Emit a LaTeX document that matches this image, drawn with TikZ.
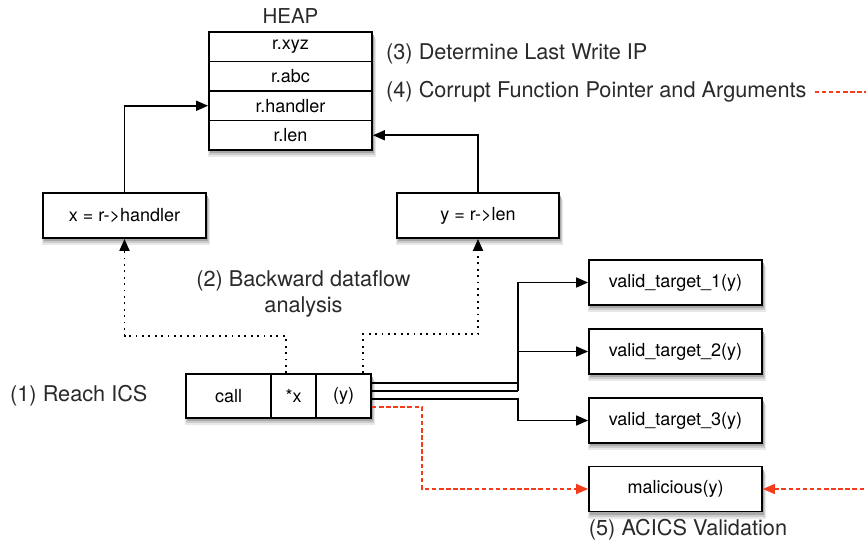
\documentclass[tikz,border=0pt]{standalone}
\usepackage{fontspec}
\setmainfont{TeX Gyre Heros}
\usetikzlibrary{arrows.meta}
\definecolor{attack}{HTML}{F23C1B}
\definecolor{lbltext}{HTML}{2A2A2A}
\newcommand{\softshadow}[4]{%
  \fill[black!9]  (#1-1,#2+7) rectangle (#3+4,#4+7);
  \fill[black!20] (#1,#2+5) rectangle (#3+3,#4+5);
  \fill[black!34] (#1+1,#2+3) rectangle (#3+2,#4+3);
}
\begin{document}
\begin{tikzpicture}[x=1pt,y=-1pt,
  box/.style={draw, line width=1.8pt, fill=white, inner sep=0pt,
    font=\fontsize{18}{21}\selectfont},
  heaprow/.style={box, minimum width=163pt, minimum height=29.5pt},
  fnbox/.style={box, minimum width=163pt, minimum height=45pt},
  tgbox/.style={box, minimum width=173pt, minimum height=45pt},
  cell/.style={box, minimum height=44pt},
  lbl/.style={font=\fontsize{21.7}{26}\selectfont, text=lbltext, inner sep=0pt},
  tip/.tip={Triangle[length=12pt,width=10pt]},
  conn/.style={line width=1.7pt, -tip},
  plain/.style={line width=1.7pt},
  dots/.style={line width=1.8pt, dash pattern=on 1.8pt off 4.6pt, -tip},
  reddash/.style={line width=1.6pt, attack, dash pattern=on 4.5pt off 2.6pt, -{Triangle[length=12pt,width=10pt,fill=attack]}}
]
\useasboundingbox (0,0) rectangle (866,543);

% soft drop shadows (drawn first, beneath the boxes)
\softshadow{209}{32}{372}{150}
\softshadow{43}{193}{206}{238}
\softshadow{397}{193}{559}{238}
\softshadow{186}{374}{371}{418}
\softshadow{589}{260}{762}{305}
\softshadow{589}{329}{762}{374}
\softshadow{589}{398}{762}{443}
\softshadow{589}{466.5}{762}{511.5}

% heap
\node[lbl, font=\fontsize{20.5}{24}\selectfont] (heap) at (290.5,16) {HEAP};
\node[heaprow] (h1) at (290.5,46.75) {r.xyz};
\node[heaprow] (h2) at (290.5,76.25) {r.abc};
\node[heaprow] (h3) at (290.5,105.75) {r.handler};
\node[heaprow] (h4) at (290.5,135.25) {r.len};

\node[lbl, anchor=west] (l3) at (386,54) {(3) Determine Last Write IP};
\node[lbl, anchor=west] (l4) at (386,92) {(4) Corrupt Function Pointer and Arguments};

% loads
\node[fnbox] (xb) at (124.5,215.5) {x = r->handler};
\node[fnbox, minimum width=162pt] (yb) at (478,215.5) {y = r->len};

\node[lbl, align=center] (l2) at (303.5,294) {(2) Backward dataflow\\analysis};

% call site
\node[cell, minimum width=85pt] (cc) at (228.5,396) {call};
\node[cell, minimum width=45pt] (cx) at (293.5,396) {*x};
\node[cell, minimum width=55pt] (cy) at (343.5,396) {(y)};
\node[lbl, anchor=west] (l1) at (10,396) {(1) Reach ICS};

% targets
\node[tgbox] (v1) at (675.5,282.5) {valid\_target\_1(y)};
\node[tgbox] (v2) at (675.5,351.5) {valid\_target\_2(y)};
\node[tgbox] (v3) at (675.5,420.5) {valid\_target\_3(y)};
\node[tgbox] (mal) at (675.5,489) {malicious(y)};
\node[lbl] (l5) at (688,530) {(5) ACICS Validation};

% heap writes
\draw[conn] (xb.north) |- (h3.west);
\draw[conn] (yb.north) |- (h4.east);

% backward dataflow
\draw[dots] ([xshift=-7.5pt]cx.north) -- ++(0,-37) -| (xb.south);
\draw[dots] ([xshift=19.5pt]cy.north) -- ++(0,-39) -| (yb.south);

% indirect call edges
\draw[conn] ([yshift=13pt]cy.east) -- ++(146,0) |- (v1.west);
\draw[plain] ([yshift=5pt]cy.east) -- ++(146,0);
\draw[conn] ([yshift=5pt]cy.east) ++(146,0) |- (v2.west);
\draw[conn] ([yshift=-3pt]cy.east) -- ++(146,0) |- (v3.west);

% attack
\draw[reddash] ([yshift=-11pt]cy.east) -- ++(50,0) |- (mal.west);
\coordinate (offr) at (900,92);
\draw[reddash] ([xshift=8pt]l4.east) -- (offr) |- (mal.east);
\end{tikzpicture}
\end{document}
